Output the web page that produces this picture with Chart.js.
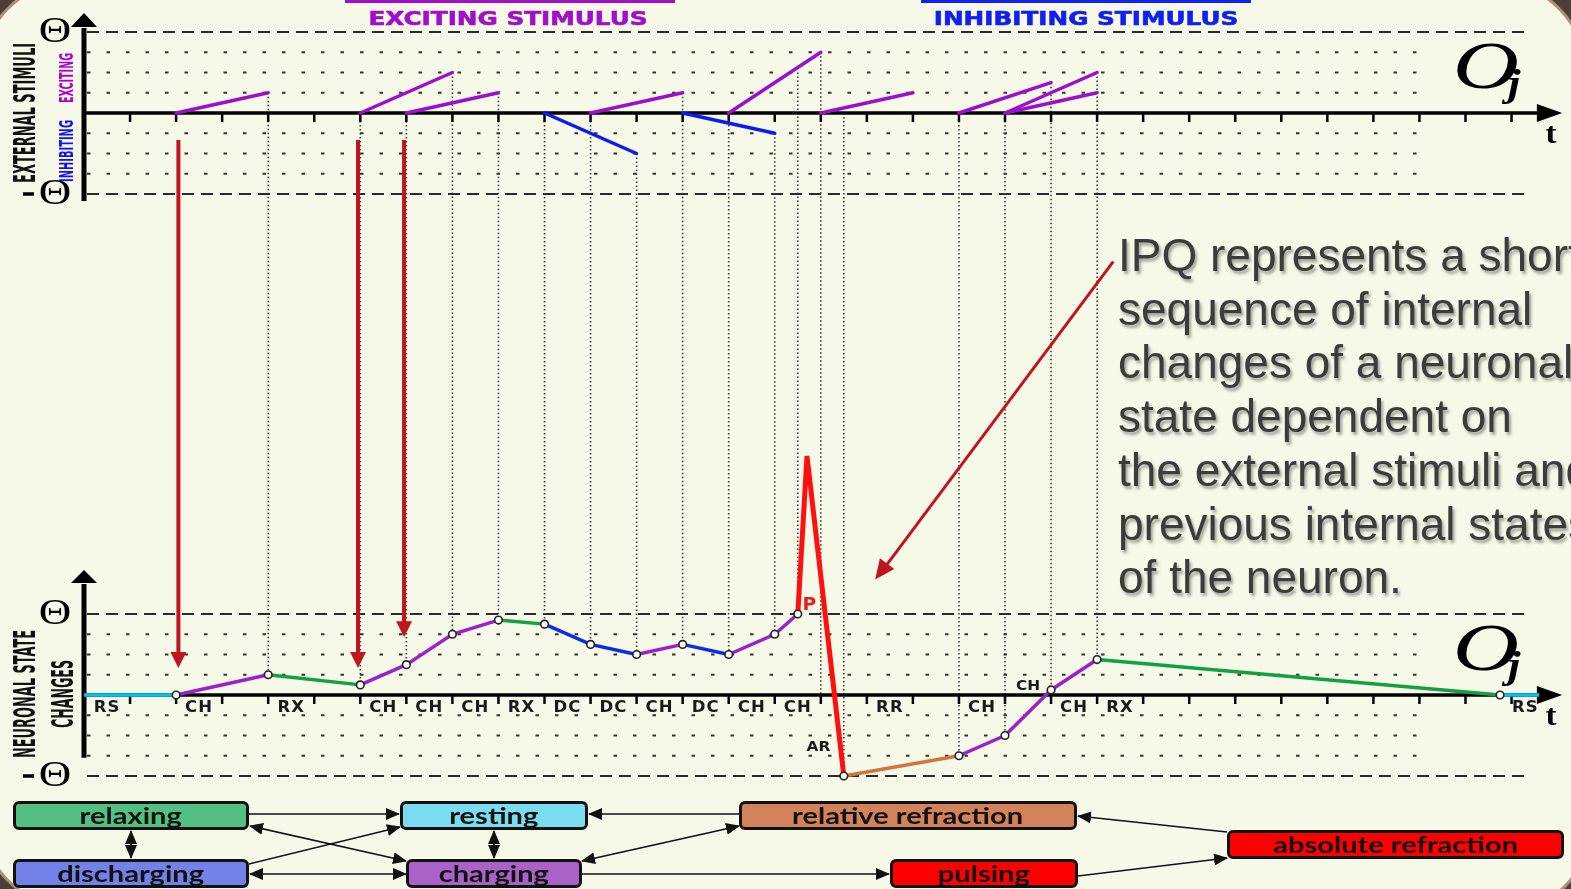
<!DOCTYPE html>
<html>
<head>
<meta charset="utf-8">
<script src="https://cdn.jsdelivr.net/npm/chart.js@4.4.1/dist/chart.umd.min.js"></script>
<style>
  html, body { margin: 0; padding: 0; width: 1571px; height: 889px; overflow: hidden; background: #4d3f38; }
  #page { position: absolute; left: -20px; top: -20px; width: 1607px; height: 929px; background: #f6f8e8;
          border-radius: 100px 100px 80px 100px; box-shadow: 0 0 0 3px #b08f77; }
  #chart { position: absolute; left: 0; top: 0; }
  .bar { position: absolute; top: 0; height: 3px; }
  .title { position: absolute; top: 18px; font: bold 19px "DejaVu Sans", sans-serif; line-height: 19px;
           white-space: nowrap; transform: translate(-50%, -50%) scaleX(1.3); -webkit-text-stroke: 0.6px currentColor; }
  #note { position: absolute; left: 1118px; top: 229px; font: 46px "Liberation Sans", Arial, sans-serif;
          line-height: 53.7px; color: #3c3c3c; white-space: nowrap; text-shadow: 2px 3px 3px rgba(0,0,0,0.35); }
  .box { position: absolute; box-sizing: border-box; height: 29px; border: 3px solid #111; border-radius: 6px;
         display: flex; align-items: center; justify-content: center; overflow: hidden; }
  .box span { display: inline-block; font: bold 22px Lato, "Open Sans", sans-serif; color: #111; transform: scaleX(1.32); white-space: nowrap; }
  #links { position: absolute; left: 0; top: 0; }
</style>
</head>
<body>
<div id="page"></div>
<canvas id="chart" width="1571" height="889"></canvas>

<div class="bar" style="left:345px;width:330px;background:#a010c8"></div>
<div class="title" style="left:508px;color:#a010c8">EXCITING STIMULUS</div>
<div class="bar" style="left:921px;width:330px;background:#1020f0"></div>
<div class="title" style="left:1086px;color:#1020f0">INHIBITING STIMULUS</div>

<div id="note">IPQ represents a short<br>sequence of internal<br>changes of a neuronal<br>state dependent on<br>the external stimuli and<br>previous internal states<br>of the neuron.</div>

<svg id="links" width="1571" height="889">
  <defs>
    <marker id="hd" markerUnits="userSpaceOnUse" markerWidth="14" markerHeight="12" refX="13" refY="6" orient="auto-start-reverse">
      <path d="M0,0 L14,6 L0,12 Z" fill="#111"/>
    </marker>
  </defs>
  <g stroke="#111" stroke-width="1.6" fill="none">
    <line x1="249" y1="814" x2="399" y2="814" marker-end="url(#hd)"/>
    <line x1="739" y1="814" x2="589" y2="814" marker-end="url(#hd)"/>
    <line x1="131" y1="831" x2="131" y2="858" marker-start="url(#hd)" marker-end="url(#hd)"/>
    <line x1="494" y1="831" x2="494" y2="858" marker-start="url(#hd)" marker-end="url(#hd)"/>
    <line x1="250" y1="826" x2="406" y2="861" marker-start="url(#hd)" marker-end="url(#hd)"/>
    <line x1="249" y1="864" x2="400" y2="827" marker-end="url(#hd)"/>
    <line x1="250" y1="874" x2="406" y2="874" marker-start="url(#hd)" marker-end="url(#hd)"/>
    <line x1="582" y1="861" x2="739" y2="826" marker-start="url(#hd)" marker-end="url(#hd)"/>
    <line x1="582" y1="874" x2="889" y2="874" marker-end="url(#hd)"/>
    <line x1="1227" y1="832" x2="1078" y2="816" marker-end="url(#hd)"/>
    <line x1="1078" y1="876" x2="1227" y2="858" marker-end="url(#hd)"/>
  </g>
</svg>

<div class="box" style="left:13px;top:801px;width:236px;background:#52c082"><span>relaxing</span></div>
<div class="box" style="left:13px;top:859px;width:236px;background:#7282e8"><span>discharging</span></div>
<div class="box" style="left:400px;top:801px;width:188px;background:#7adcf0"><span>resting</span></div>
<div class="box" style="left:406px;top:859px;width:176px;background:#aa62c8"><span>charging</span></div>
<div class="box" style="left:739px;top:801px;width:338px;background:#d4825a"><span>relative refraction</span></div>
<div class="box" style="left:890px;top:859px;width:188px;background:#ff0000"><span>pulsing</span></div>
<div class="box" style="left:1227px;top:830px;width:337px;background:#ff0000"><span>absolute refraction</span></div>

<script>
// ---- data (time in ticks, amplitude in grid steps, threshold = 4 steps) ----
const THETA = 4;
const GRID_STEPS = [1, 2, 3];
const TICK_COUNT = 31;

// external stimuli, top panel
const exStart = [2, 6, 7, 11, 14, 16, 19, 20, 20];
const exEnd   = [4, 8, 9, 13, 16, 18, 21, 22, 22];
const exPeak  = [1, 2, 1, 1, 3, 1, 1.5, 2, 1];
const inStart = [10, 13];
const inEnd   = [12, 15];
const inPeak  = [-2, -1];

// neuronal state, bottom panel
const stT = [0, 2, 4, 6, 7, 8, 9, 10, 11, 12, 13, 14, 15, 15.5, 15.7, 16.5, 19, 20, 21, 22, 30.75, 31.6];
const stV = [0, 0, 1, 0.5, 1.5, 3, 3.7, 3.5, 2.5, 2, 2.5, 2, 3, 4, 11.8, -4, -3, -2, 0.25, 1.75, 0, 0];
const stSeg = ['RS','CH','RX','CH','CH','CH','RX','DC','DC','CH','DC','CH','CH','P','P','RR','CH','CH','CH','RX','RS'];
const stMarked = [0,1,1,1,1,1,1,1,1,1,1,1,1,1,0,1,1,1,1,1,1,0];

// state labels under the time axis
const axT   = [0.5, 2.5, 4.5, 6.5, 7.5, 8.5, 9.5, 10.5, 11.5, 12.5, 13.5, 14.5, 15.5, 17.5, 19.5, 21.5, 22.5, 31.3];
const axTxt = ['RS','CH','RX','CH','CH','CH','RX','DC','DC','CH','DC','CH','CH','RR','CH','CH','RX','RS'];

// extra labels in the bottom panel
const markT   = [20.5, 15.95, 15.75];
const markV   = [0.45, -2.6, 4.4];
const markTxt = ['CH', 'AR', 'P'];

// dotted links between panels: time, top panel value, bottom panel value
const linkT   = [4, 6, 7, 8, 9, 10, 11, 12, 13, 14, 15, 15.5, 16, 16.5, 19, 20, 21, 22];
const linkTop = [1, 0, 0, 2, 1, 0, 0, -2, 1, 0, -1, 2, 3, 0, 0, 0, 1.5, 2];
const linkBot = [1, 0.5, 1.5, 3, 3.7, 3.5, 2.5, 2, 2.5, 2, 3, 4, 0, -4, -3, -2, 0.25, 1.75];

// stimulus arrows: time, start (top panel), end (bottom panel)
const arrowT    = [2.05, 5.95, 6.95];
const arrowFrom = [-1.33, -1.33, -1.33];
const arrowTo   = [1.33, 1.33, 2.85];

// pointer from the note
const noteFrom = { t: 22.35, v: 21.4 };
const noteTo   = { t: 17.18, v: 5.7 };

// ---- layout ----
const AREA_TOP = 10, AREA_BOTTOM = 790, UNIT_Y = 20.25;
const TOP_ZERO = 113, BOT_ZERO = 695;
const X_MAX = 32;
const DOTTED_END = 29.2, DASHED_END = 31.35;
const X_ARROW_BASE = 31.55, X_ARROW_TIP = 32.1;

const COL = { purple: '#9c10cc', blue: '#0c1cf0', green: '#12a040', cyan: '#00c4f0',
              red: '#ff1010', orange: '#d2743c', arrow: '#c0141e' };
const segColor = { RS: COL.cyan, CH: '#9a22c8', RX: COL.green, DC: '#0a2ee8', P: COL.red, RR: COL.orange };

const panels = [
  { id: 'yTop', tip: 4.94, base: 4.25, bottom: -4.35 },
  { id: 'yBot', tip: 6.17, base: 5.53, bottom: -3.1 }
];

function seg(ctx, x0, y0, x1, y1, color, w, dash) {
  ctx.save();
  ctx.beginPath();
  ctx.strokeStyle = color;
  ctx.lineWidth = w;
  ctx.setLineDash(dash || []);
  ctx.moveTo(x0, y0);
  ctx.lineTo(x1, y1);
  ctx.stroke();
  ctx.restore();
}

function head(ctx, x0, y0, x1, y1, len, half, color) {
  const a = Math.atan2(y1 - y0, x1 - x0);
  ctx.save();
  ctx.translate(x1, y1);
  ctx.rotate(a);
  ctx.beginPath();
  ctx.moveTo(0, 0);
  ctx.lineTo(-len, -half);
  ctx.lineTo(-len, half);
  ctx.closePath();
  ctx.fillStyle = color;
  ctx.fill();
  ctx.restore();
}

function stext(ctx, txt, x, y, font, sx, color, base) {
  ctx.save();
  ctx.translate(x, y);
  ctx.scale(sx, 1);
  ctx.font = font;
  ctx.fillStyle = color;
  ctx.textAlign = 'center';
  ctx.textBaseline = base || 'middle';
  ctx.fillText(txt, 0, 0);
  ctx.restore();
}

// rotated label squeezed to a given length
function vtext(ctx, txt, cx, cy, len, size, color) {
  ctx.save();
  ctx.translate(cx, cy);
  ctx.rotate(-Math.PI / 2);
  ctx.font = `bold ${size}px "DejaVu Sans Condensed", "DejaVu Sans", sans-serif`;
  const w = ctx.measureText(txt).width;
  ctx.scale(len / w, 1);
  ctx.fillStyle = color;
  ctx.textAlign = 'center';
  ctx.textBaseline = 'middle';
  ctx.fillText(txt, 0, 0);
  ctx.restore();
}

const neuronPlugin = {
  id: 'neuron',
  beforeDatasetsDraw(chart) {
    const { ctx, scales } = chart;
    const xs = scales.x, yT = scales.yTop, yB = scales.yBot;
    const X = v => xs.getPixelForValue(v);

    [yT, yB].forEach(ys => {
      GRID_STEPS.forEach(g => [1, -1].forEach(s => {
        const y = ys.getPixelForValue(g * s);
        seg(ctx, X(0) + 3, y, X(DOTTED_END), y, '#333', 2, [3.5, 16]);
      }));
      [1, -1].forEach(s => {
        const y = ys.getPixelForValue(THETA * s);
        seg(ctx, X(0) + 3, y, X(DASHED_END), y, '#2a2a2a', 2.2, [12, 7]);
      });
    });

    linkT.forEach((t, i) => {
      seg(ctx, X(t), yT.getPixelForValue(linkTop[i]), X(t), yB.getPixelForValue(linkBot[i]), '#3a3a3a', 1.6, [1.5, 2.5]);
    });

    panels.forEach(p => {
      const ys = scales[p.id];
      const ax = X(0), y0 = ys.getPixelForValue(0);
      seg(ctx, ax, ys.getPixelForValue(p.bottom), ax, ys.getPixelForValue(p.base) + 1, '#000', 5);
      head(ctx, ax, ys.getPixelForValue(p.base), ax, ys.getPixelForValue(p.tip), ys.getPixelForValue(p.base) - ys.getPixelForValue(p.tip), 13, '#000');
      seg(ctx, ax, y0, X(X_ARROW_BASE) + 1, y0, '#000', 3.5);
      head(ctx, X(X_ARROW_BASE), y0, X(X_ARROW_TIP), y0, X(X_ARROW_TIP) - X(X_ARROW_BASE), 9, '#000');
      for (let k = 1; k <= TICK_COUNT; k++) seg(ctx, X(k), y0, X(k), y0 + 9, '#000', 2.5);
    });
  },
  afterDatasetsDraw(chart) {
    const { ctx, scales } = chart;
    const xs = scales.x, yT = scales.yTop, yB = scales.yBot;
    const X = v => xs.getPixelForValue(v);

    // stimulus arrows
    arrowT.forEach((t, i) => {
      const y0 = yT.getPixelForValue(arrowFrom[i]), y1 = yB.getPixelForValue(arrowTo[i]);
      seg(ctx, X(t), y0, X(t), y1 - 12, COL.arrow, 4);
      head(ctx, X(t), y0, X(t), y1, 16, 8, COL.arrow);
    });

    // pointer from the note
    const nx0 = X(noteFrom.t), ny0 = yB.getPixelForValue(noteFrom.v);
    const nx1 = X(noteTo.t), ny1 = yB.getPixelForValue(noteTo.v);
    seg(ctx, nx0, ny0, nx1 + 8, ny1 - 10, COL.arrow, 3);
    head(ctx, nx0, ny0, nx1, ny1, 20, 9, COL.arrow);

    // state labels
    ctx.save();
    ctx.letterSpacing = '1px';
    axT.forEach((t, i) => stext(ctx, axTxt[i], X(t), yB.getPixelForValue(0) + 13, 'bold 15px "DejaVu Sans", sans-serif', 1.1, '#1a1a1a'));
    ctx.restore();
    markT.forEach((t, i) => {
      const isP = markTxt[i] === 'P';
      stext(ctx, markTxt[i], X(t), yB.getPixelForValue(markV[i]),
            isP ? 'bold 17px "DejaVu Sans", sans-serif' : 'bold 14px "DejaVu Sans", sans-serif',
            1.1, isP ? '#e8201a' : '#1a1a1a');
    });

    panels.forEach(p => {
      const ys = scales[p.id];
      const y0 = ys.getPixelForValue(0);
      stext(ctx, '\u0398', 55, ys.getPixelForValue(THETA) + 1, '36px "Liberation Serif", serif', 1.25, '#000');
      stext(ctx, '\u0398', 55, ys.getPixelForValue(-THETA) + 1, '36px "Liberation Serif", serif', 1.25, '#000');
      seg(ctx, 23, ys.getPixelForValue(-THETA), 34, ys.getPixelForValue(-THETA), '#000', 3.5);
      stext(ctx, 'O', 1486, y0 - 43, 'italic 68px "Liberation Serif", serif', 1.35, '#000');
      stext(ctx, 'j', 1514, y0 - 17, 'bold italic 38px "Liberation Serif", serif', 1.2, '#000', 'alphabetic');
      stext(ctx, 't', 1551, y0 + 30, 'bold 30px "Liberation Serif", serif', 1.1, '#000', 'alphabetic');
    });

    vtext(ctx, 'EXTERNAL STIMULI', 27, 113, 140, 30, '#111');
    vtext(ctx, 'EXCITING', 68, 78, 50, 20, '#b000d0');
    vtext(ctx, 'INHIBITING', 68, 151, 62, 20, '#1010ff');
    vtext(ctx, 'NEURONAL STATE', 27, 694, 128, 30, '#111');
    vtext(ctx, 'CHANGES', 65, 694, 68, 30, '#111');
  }
};

// ---- datasets ----
const datasets = [];
exStart.forEach((s, i) => datasets.push({
  yAxisID: 'yTop', data: [{ x: s, y: 0 }, { x: exEnd[i], y: exPeak[i] }],
  borderColor: COL.purple, borderWidth: 3.5, pointRadius: 0, borderCapStyle: 'round'
}));
inStart.forEach((s, i) => datasets.push({
  yAxisID: 'yTop', data: [{ x: s, y: 0 }, { x: inEnd[i], y: inPeak[i] }],
  borderColor: COL.blue, borderWidth: 3.5, pointRadius: 0, borderCapStyle: 'round'
}));
datasets.push({
  yAxisID: 'yBot',
  data: stT.map((t, i) => ({ x: t, y: stV[i] })),
  borderColor: COL.purple,
  borderWidth: 3.5,
  segment: {
    borderColor: c => segColor[stSeg[c.p0DataIndex]],
    borderWidth: c => stSeg[c.p0DataIndex] === 'P' ? 5 : 3.5
  },
  pointRadius: stMarked.map(m => m ? 3.8 : 0),
  pointBackgroundColor: '#ffffff',
  pointBorderColor: '#222',
  pointBorderWidth: 1.6
});

new Chart(document.getElementById('chart'), {
  type: 'line',
  data: { datasets },
  options: {
    responsive: false,
    animation: false,
    layout: { padding: { left: 84, right: 1571 - 84 - X_MAX * 46.05, top: AREA_TOP, bottom: 889 - AREA_BOTTOM } },
    plugins: { legend: { display: false }, tooltip: { enabled: false } },
    scales: {
      x: { type: 'linear', min: 0, max: X_MAX, display: false },
      yTop: { type: 'linear', display: false,
              min: -(AREA_BOTTOM - TOP_ZERO) / UNIT_Y, max: (TOP_ZERO - AREA_TOP) / UNIT_Y },
      yBot: { type: 'linear', display: false,
              min: -(AREA_BOTTOM - BOT_ZERO) / UNIT_Y, max: (BOT_ZERO - AREA_TOP) / UNIT_Y }
    }
  },
  plugins: [neuronPlugin]
});
</script>
</body>
</html>
